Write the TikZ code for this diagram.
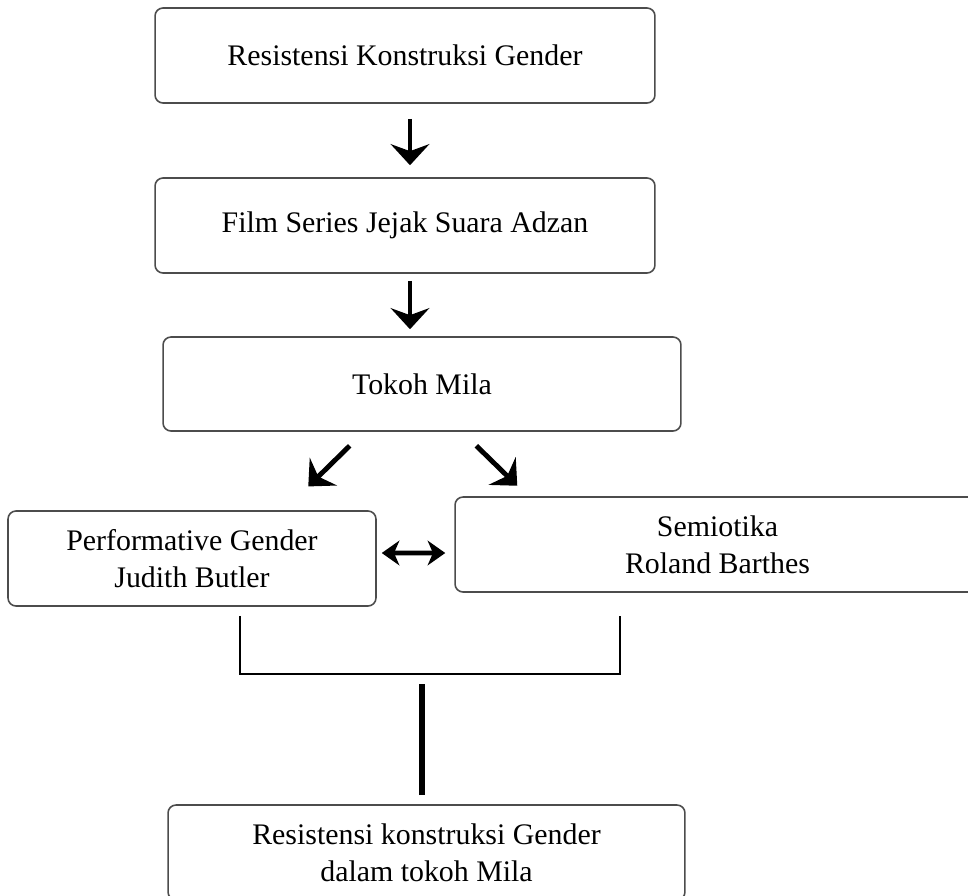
\documentclass[tikz,border=0pt]{standalone}
\usepackage{fontspec}
\setmainfont{Liberation Serif}
\usetikzlibrary{arrows.meta,calc}

\tikzset{
    box/.style={draw=black!70, line width=0.9pt, rounded corners=4.5pt, align=center, inner sep=0pt, font=\fontsize{17}{21}\selectfont},
    arr/.style={line width=2.8pt, -{Stealth[length=12pt,width=22pt,inset=4pt]}},
    twoway/.style={line width=2.8pt, {Stealth[length=10pt,width=14pt,inset=3pt]}-{Stealth[length=10pt,width=14pt,inset=3pt]}},
    bracketline/.style={line width=1.4pt},
    stemline/.style={line width=3.4pt}
    }

\begin{document}
\begin{tikzpicture}[x=0.02cm, y=-0.02cm]
                \useasboundingbox (0,0) rectangle (968,896);
                \fill[white] (0,0) rectangle (968,896);
                \clip (0,0) rectangle (968,896);
                % The boxes
                \node(b1)[box, minimum width=10cm, minimum height=1.9cm] at (405,55.5) {Resistensi Konstruksi Gender};
                \node(b2)[box, minimum width=10cm, minimum height=1.9cm] at (405,225.5) {Film Series Jejak Suara Adzan};
                \node(b3)[box, minimum width=10.36cm, minimum height=1.88cm] at (422,384) {Tokoh Mila};
                \node(b4)[box, minimum width=7.36cm, minimum height=1.9cm] at (192,558.5) {Performative Gender\\Judith Butler};
                \node(b5)[box, minimum width=10.5cm, minimum height=1.9cm] at (717.5,544.5) {Semiotika\\Roland Barthes};
                \node(b6)[box, minimum width=10.34cm, minimum height=1.9cm] at (426.5,852.5) {Resistensi konstruksi Gender\\dalam tokoh Mila};
                % The arrows
                \draw[arr, shorten <=0.3cm, shorten >=0.24cm] ($(b1.south)+(5,0)$) -- ($(b2.north)+(5,0)$);
                \draw[arr, shorten <=0.14cm, shorten >=0.14cm] ($(b2.south)+(5,0)$) -- ($(b3.north)+(-12,0)$);
                \draw[arr, shorten <=0.4cm, shorten >=0.68cm] ($(b3.south)+(-58,0)$) -- ($(b4.north)+(92,0)$);
                \draw[arr, shorten <=0.4cm, shorten >=0.3cm] ($(b3.south)+(40,0)$) -- ($(b5.north)+(-189.5,0)$);
                \draw[twoway, shorten <=0.1cm, shorten >=0.18cm] ($(b4.east)+(0,-5.5)$) -- ($(b5.west)+(0,8.5)$);
                % The join
                \draw[bracketline] ($(b4.south)+(48,9)$) -- ++(0,58) -| ($(b5.south)+(-97.5,23)$);
                \draw[stemline] ($(b6.north)+(-4.5,-9)$) -- ++(0,-111);
\end{tikzpicture}
\end{document}
